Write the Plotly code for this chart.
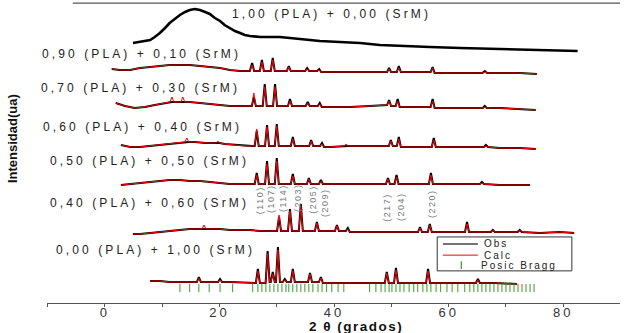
import plotly.graph_objects as go

# ---------------- data (2theta in degrees, intensity in a.u. with vertical offsets) -------------
pla100_x = [4.9, 6.1, 7.0, 7.9, 8.7, 9.6, 10.5, 11.3, 12.2, 13.1, 14.0, 14.8, 15.7, 16.6, 17.5, 18.3,
            19.2, 20.1, 20.9, 21.8, 22.7, 23.6, 24.4, 25.3, 27.1, 28.8, 30.5, 32.3, 34.0, 37.5, 41.0,
            44.5, 48.0, 51.5, 56.7, 62.0, 68.9, 75.9, 82.5]
pla100_obs = [260, 261, 262, 263, 266, 270, 275, 280, 284, 288, 291, 293, 294, 293, 291, 289,
              285, 282, 278, 275, 272, 270, 268, 267, 266, 266, 266, 265, 264, 262, 261,
              260, 258, 257, 256, 255, 254, 253, 252]

p90_x = [1.2, 2.6, 4.4, 6.1, 7.9, 9.6, 11.3, 13.1, 14.8, 16.6, 18.3, 20.1, 21.8, 23.6, 25.3,
         25.7, 26.05, 27.05, 27.4, 27.75, 28.95, 29.3, 29.65, 31.75, 32.1, 32.45, 34.95, 35.3, 35.65, 37.05, 37.4, 37.75,
         39.3, 42.8, 46.2, 49.25, 49.6, 49.95, 50.95, 51.3, 51.65, 53.2, 56.85, 57.2, 57.55, 60.2, 65.9, 66.3, 66.7, 68.9, 72.4, 75.4]
p90_obs = [234, 233, 233, 235, 236, 237, 238, 238, 238, 237, 236, 235, 233, 232, 232,
           240, 232, 232, 243, 232, 232, 245, 232, 232, 237, 232, 232, 235, 232, 232, 234, 231,
           231, 231, 231, 231, 235, 231, 231, 237, 231, 231, 231, 236, 230, 230, 230, 232, 230, 230, 230, 229]
p90_calc = [234, 233, 233, 235, 236, 237, 238, 238, 238, 237, 236, 235, 233, 232, 232,
            238, 232, 232, 241, 232, 232, 243, 232, 232, 236, 232, 232, 234, 232, 232, 233, 231,
            231, 231, 231, 231, 234, 231, 231, 235, 231, 231, 231, 235, 230, 230, 230, 231, 230, 230, 230, 229]

p70_x = [1.9, 3.5, 5.2, 7.0, 8.7, 10.5, 11.35, 11.7, 12.05, 13.25, 13.6, 13.95, 14.8, 16.6, 18.3, 20.1, 21.8, 23.6, 25.3,
         25.65, 26.0, 26.35, 27.55, 27.9, 28.25, 29.35, 29.7, 30.05, 31.95, 32.3, 32.65, 35.05, 35.4, 35.75, 37.15, 37.5, 37.85,
         39.3, 42.8, 46.2, 48.0, 49.25, 49.6, 49.95, 50.75, 51.1, 51.45, 53.2, 56.85, 57.2, 57.55, 60.2, 65.95, 66.3, 66.65, 68.9, 72.4, 75.2]
p70_obs = [200, 197, 195, 196, 198, 200, 201, 201, 201, 201, 201, 201, 201, 200, 199, 198, 197, 197, 197,
           197, 206, 197, 197, 219, 197, 197, 219, 197, 197, 204, 197, 197, 201, 197, 197, 200, 196,
           196, 196, 197, 198, 198, 203, 197, 197, 204, 196, 196, 196, 204, 195, 195, 195, 197, 195, 195, 194, 193]
p70_calc = [200, 197, 195, 196, 198, 200, 201, 206, 201, 201, 206, 201, 201, 200, 199, 198, 197, 197, 197,
            197, 210, 197, 197, 216, 197, 197, 216, 197, 197, 202, 197, 197, 200, 197, 197, 199, 196,
            196, 196, 197, 198, 198, 202, 197, 197, 202, 196, 196, 196, 202, 195, 195, 195, 196, 195, 195, 194, 193]

p60_x = [2.8, 4.4, 6.1, 7.9, 9.6, 11.3, 13.1, 13.95, 14.3, 14.65, 15.7, 17.5, 19.35, 19.7, 20.05, 20.9, 22.7, 24.4, 25.7,
         26.15, 26.5, 26.85, 27.95, 28.3, 28.65, 29.65, 30.0, 30.35, 32.45, 32.8, 33.15, 35.65, 36.0, 36.35, 37.55, 37.9, 38.25,
         39.3, 41.75, 42.1, 42.45, 44.5, 48.0, 49.55, 49.9, 50.25, 50.95, 51.3, 51.65, 53.2, 57.05, 57.4, 57.75, 60.2,
         66.15, 66.5, 66.85, 68.9, 72.4, 75.2]
p60_obs = [158, 156, 156, 157, 158, 159, 160, 161, 161, 161, 161, 160, 160, 160, 160, 159, 158, 157, 157,
           157, 172, 157, 157, 178, 157, 157, 179, 157, 157, 166, 157, 157, 163, 157, 157, 160, 156,
           156, 157, 157, 157, 157, 157, 157, 163, 157, 157, 166, 156, 156, 156, 165, 156, 156,
           156, 158, 156, 155, 155, 154]
p60_calc = [158, 156, 156, 157, 158, 159, 160, 161, 165, 161, 161, 160, 160, 162, 160, 159, 158, 157, 157,
            157, 174, 157, 157, 176, 157, 157, 177, 157, 157, 164, 157, 157, 162, 157, 157, 159, 156,
            156, 157, 159, 157, 157, 157, 157, 162, 157, 157, 164, 156, 156, 156, 163, 156, 156,
            156, 157, 156, 155, 155, 154]

p50_x = [2.8, 4.4, 6.1, 7.9, 9.6, 11.3, 13.1, 14.8, 16.6, 18.3, 20.1, 21.8, 23.6, 25.3,
         26.15, 26.5, 26.85, 27.95, 28.3, 28.65, 29.65, 30.0, 30.35, 32.45, 32.8, 33.15, 35.25, 35.6, 35.95, 37.35, 37.7, 38.05,
         39.3, 42.8, 46.2, 49.05, 49.4, 49.75, 50.55, 50.9, 51.25, 53.2, 56.55, 56.9, 57.25, 60.2, 65.45, 65.8, 66.15, 68.9, 72.4, 74.2]
p50_obs = [118, 119, 120, 121, 122, 123, 123, 122, 122, 121, 120, 119, 119, 119,
           119, 130, 119, 119, 142, 119, 119, 145, 119, 119, 129, 119, 119, 125, 119, 119, 123, 119,
           119, 119, 119, 119, 125, 119, 119, 128, 119, 119, 119, 130, 119, 119, 119, 121, 119, 118, 118, 118]
p50_calc = [118, 119, 120, 121, 122, 123, 123, 122, 122, 121, 120, 119, 119, 119,
            119, 128, 119, 119, 139, 119, 119, 142, 119, 119, 127, 119, 119, 124, 119, 119, 122, 119,
            119, 119, 119, 119, 124, 119, 119, 126, 119, 119, 119, 128, 119, 119, 119, 120, 119, 118, 118, 118]

p40_x = [4.9, 6.1, 7.9, 9.6, 11.3, 13.1, 14.8, 16.95, 17.3, 17.65, 18.3, 20.1, 21.8, 23.6, 25.3, 27.1, 28.8,
         30.05, 30.4, 30.75, 31.95, 32.3, 32.65, 33.85, 34.2, 34.55, 36.65, 37.0, 37.35, 40.15, 40.5, 40.85, 42.05, 42.4, 42.75,
         44.5, 48.0, 51.5, 54.65, 55.0, 55.35, 56.35, 56.7, 57.05, 59.3, 62.85, 63.2, 63.55, 65.4, 67.35, 67.7, 68.05,
         70.7, 72.05, 72.4, 72.75, 75.9, 79.4, 81.9]
p40_obs = [69, 69, 70, 71, 72, 73, 74, 74, 74, 74, 74, 74, 73, 73, 73, 72, 72,
           72, 86, 72, 72, 94, 72, 72, 99, 72, 72, 81, 72, 72, 78, 72, 72, 75, 71,
           71, 71, 71, 71, 76, 71, 71, 79, 71, 71, 71, 81, 71, 71, 71, 73, 71,
           71, 71, 73, 71, 70, 71, 70]
p40_calc = [69, 69, 70, 71, 72, 73, 74, 74, 78, 74, 74, 74, 73, 73, 73, 72, 72,
            72, 88, 72, 72, 92, 72, 72, 96, 72, 72, 80, 72, 72, 77, 72, 72, 74, 71,
            71, 71, 71, 71, 75, 71, 71, 78, 71, 71, 71, 79, 71, 71, 71, 73, 71,
            71, 71, 73, 71, 70, 71, 70]

p00_x = [7.9, 9.6, 11.3, 13.1, 14.8, 16.05, 16.4, 16.75, 18.3, 19.75, 20.1, 20.45, 21.8, 24.4, 26.2,
         26.35, 26.7, 27.05, 28.05, 28.4, 28.75, 28.95, 29.3, 29.65, 29.85, 30.2, 30.55, 31.05, 31.4, 31.75,
         32.45, 32.8, 33.15, 35.45, 35.8, 36.15, 37.35, 37.7, 38.05,
         39.3, 42.8, 46.2, 48.85, 49.2, 49.55, 50.45, 50.8, 51.15, 53.2, 56.05, 56.4, 56.75, 60.2, 64.75, 65.1, 65.45, 68.0, 71.9]
p00_obs = [22, 22, 21, 21, 21, 21, 26, 21, 21, 21, 24, 21, 21, 20, 20,
           20, 34, 20, 20, 52, 21, 21, 31, 21, 21, 56, 21, 21, 24, 21,
           21, 34, 21, 21, 30, 21, 21, 26, 20,
           20, 20, 20, 20, 31, 20, 20, 35, 20, 20, 20, 34, 20, 20, 20, 24, 20, 20, 19]
p00_calc = [22, 22, 21, 21, 21, 21, 25, 21, 21, 21, 23, 21, 21, 20, 20,
            20, 32, 20, 20, 49, 21, 21, 29, 21, 21, 53, 21, 21, 23, 21,
            21, 32, 21, 21, 29, 21, 21, 25, 20,
            20, 20, 20, 20, 30, 20, 20, 33, 20, 20, 20, 32, 20, 20, 20, 23, 20, 20, 19]

bragg_x = [13.1, 14.8, 16.4, 18.2, 20.1, 22.3, 25.8, 26.7, 27.4, 28.1, 28.8, 29.5, 30.2, 30.9, 31.6, 32.1,
           32.8, 33.5, 34.2, 34.9, 35.6, 36.3, 37.2, 37.9, 38.7, 39.6, 40.7, 41.7, 46.2, 47.3, 48.2, 48.9,
           49.6, 50.1, 50.8, 51.5, 52.2, 53.1, 53.9, 54.6, 55.5, 56.2, 56.9, 57.8, 58.6, 59.7, 60.6, 61.6,
           62.8, 63.7, 64.4, 65.1, 65.8, 66.5, 67.2, 67.9, 68.6, 69.3, 70.0, 70.7, 71.4, 72.1, 72.8, 73.5, 74.2, 74.9]
bragg_level = 15

sample_labels = ["1,00 (PLA) + 0,00 (SrM)", "0,90 (PLA) + 0,10 (SrM)", "0,70 (PLA) + 0,30 (SrM)",
                 "0,60 (PLA) + 0,40 (SrM)", "0,50 (PLA) + 0,50 (SrM)", "0,40 (PLA) + 0,60 (SrM)",
                 "0,00 (PLA) + 1,00 (SrM)"]
# label anchor positions (paper fractions)
label_px = [0.319, -0.012, -0.014, -0.010, 0.002, 0.002, 0.012]
label_py = [0.954, 0.822, 0.710, 0.581, 0.469, 0.330, 0.175]

hkl_labels = ["(110)", "(107)", "(114)", "(203)", "(205)", "(209)", "(217)", "(204)", "(220)"]
hkl_x = [27.1, 29.0, 31.1, 33.7, 36.3, 38.4, 49.2, 51.7, 57.1]
hkl_y = [103, 104, 105, 106, 104, 101, 96, 96, 99]

tick_vals = [0, 20, 40, 60, 80]

# ---------------- figure -------------
def sp(txt, ls):
    return f'<span style="letter-spacing:{ls}px">{txt}</span>'

fig = go.Figure()

fig.add_trace(go.Scatter(x=pla100_x, y=pla100_obs, mode="lines",
                         line=dict(color="black", width=2.6), showlegend=False))

for xs, obs, calc in [(p90_x, p90_obs, p90_calc), (p70_x, p70_obs, p70_calc), (p60_x, p60_obs, p60_calc),
                      (p50_x, p50_obs, p50_calc), (p40_x, p40_obs, p40_calc), (p00_x, p00_obs, p00_calc)]:
    fig.add_trace(go.Scatter(x=xs, y=obs, mode="lines", line=dict(color="black", width=2.0),
                             showlegend=False))
    fig.add_trace(go.Scatter(x=xs, y=calc, mode="lines", line=dict(color="#ff0000", width=1.0),
                             showlegend=False))

fig.add_trace(go.Scatter(x=bragg_x, y=[bragg_level] * len(bragg_x), mode="markers",
                         marker=dict(symbol="line-ns", size=6, line=dict(color="#3a9a2a", width=1)),
                         showlegend=False))

annotations = []
for t, x, y in zip(sample_labels, label_px, label_py):
    annotations.append(dict(x=x, y=y, xref="paper", yref="paper", text=sp(t, 3.1), showarrow=False,
                            xanchor="left", yanchor="middle",
                            font=dict(family="Liberation Sans, Arial", size=12, color="#222")))
for t, x, y in zip(hkl_labels, hkl_x, hkl_y):
    annotations.append(dict(x=x, y=y, xref="x", yref="y", text=sp(t, 1.5), showarrow=False,
                            textangle=-90, xanchor="center", yanchor="middle",
                            font=dict(family="Liberation Sans, Arial", size=9, color="#777")))

# axis titles
annotations.append(dict(x=0.54, y=-0.079, xref="paper", yref="paper", text="<b>" + sp("2 θ (grados)", 1.5) + "</b>",
                        showarrow=False, xanchor="center", yanchor="middle",
                        font=dict(family="Liberation Sans, Arial", size=13.5, color="#111")))
annotations.append(dict(x=-0.061, y=0.541, xref="paper", yref="paper", text="<b>Intensidad(ua)</b>",
                        showarrow=False, textangle=-90, xanchor="center", yanchor="middle",
                        font=dict(family="Liberation Sans Narrow, Liberation Sans, Arial", size=13, color="#111")))

# legend texts
for t, xx, yy in [("Obs", 0.760, 0.195), ("Calc", 0.760, 0.158), ("Posic Bragg", 0.754, 0.125)]:
    annotations.append(dict(x=xx, y=yy, xref="paper", yref="paper",
                            text=sp(t, 2.0), showarrow=False, xanchor="left", yanchor="middle",
                            font=dict(family="Liberation Sans, Arial", size=10, color="#222")))

shapes = [
    dict(type="line", xref="paper", yref="paper", x0=0.045, x1=1.0, y0=0.99, y1=0.99,
         line=dict(color="#555", width=1.2)),
    dict(type="rect", xref="paper", yref="paper", x0=0.681, x1=0.916, y0=0.106, y1=0.218,
         line=dict(color="#333", width=1), fillcolor="white"),
    dict(type="line", xref="paper", yref="paper", x0=0.691, x1=0.752, y0=0.195, y1=0.195,
         line=dict(color="#444", width=1.5)),
    dict(type="line", xref="paper", yref="paper", x0=0.691, x1=0.752, y0=0.158, y1=0.158,
         line=dict(color="#ff0000", width=1)),
    dict(type="line", xref="paper", yref="paper", x0=0.723, x1=0.723, y0=0.112, y1=0.138,
         line=dict(color="#3a9a2a", width=1.2)),
]

fig.update_layout(
    width=627, height=333,
    margin=dict(l=47, r=7, t=0, b=30),
    paper_bgcolor="white", plot_bgcolor="white",
    annotations=annotations, shapes=shapes,
    xaxis=dict(range=[-10.1, 89.9], showgrid=False, zeroline=False,
               showline=True, linecolor="#555", linewidth=1,
               tickmode="array", tickvals=tick_vals, ticktext=[sp(str(v), 3) for v in tick_vals],
               ticks="outside", ticklen=3, tickcolor="#555", ticklabelstandoff=-6,
               minor=dict(dtick=10, ticks="outside", ticklen=3, tickcolor="#555"),
               tickfont=dict(family="Liberation Sans, Arial", size=13, color="#333")),
    yaxis=dict(range=[0, 303], visible=False, showgrid=False, zeroline=False),
)

fig.write_html("out.html", config={"displayModeBar": False},
               post_script="document.body.style.margin='0';")
